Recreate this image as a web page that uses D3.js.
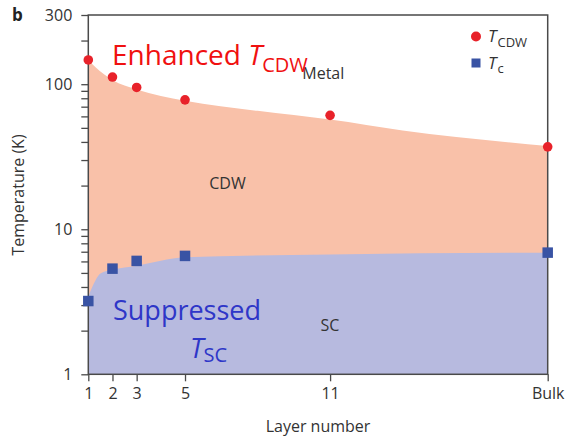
<!DOCTYPE html>
<html>
<head>
<meta charset="utf-8">
<script src="https://cdn.jsdelivr.net/npm/d3@7"></script>
<style>
  html, body { margin: 0; padding: 0; background: #fff; }
  svg { display: block; }
  text { font-family: "Open Sans", "Noto Sans", sans-serif; }
</style>
</head>
<body>
<svg id="chart" width="565" height="439"></svg>
<script>
// Layer numbers (20 stands for the bulk crystal)
const layerTicks = [1, 2, 3, 5, 11, 20];
const layerTickLabels = ["1", "2", "3", "5", "11", "Bulk"];

// Charge-density-wave transition temperature (K)
const cdwLayers = [1, 2, 3, 5, 11, 20];
const cdwTemps = [147, 112, 95, 78, 61, 37];

// Superconducting transition temperature (K)
const scLayers = [1, 2, 3, 5, 20];
const scTemps = [3.2, 5.35, 6.05, 6.55, 6.9];

// Phase boundaries used for the shaded regions
const cdwEdgeLayers = [1, 1.3, 2, 3, 5, 8, 11, 14, 20];
const cdwEdgeTemps = [147, 131, 107, 92, 77, 65.5, 57, 48, 37.5];
const scEdgeLayers = [1, 1.15, 1.3, 1.5, 2, 3, 5, 11, 20];
const scEdgeTemps = [3.45, 3.95, 4.45, 4.95, 5.25, 5.6, 6.4, 6.7, 6.9];

// Temperature axis ticks
const tempTicks = [1, 2, 3, 4, 5, 6, 7, 8, 9, 10, 20, 30, 40, 50, 60, 70, 80, 90, 100, 200, 300];
const tempTickLabels = { 1: "1", 10: "10", 100: "100", 300: "300" };

const plot = { left: 88.3, right: 547.7, top: 15, bottom: 374.3 };
const colors = {
  cdwFill: "#f9c1a9", scFill: "#b7badf",
  cdwPoint: "#e8222a", scPoint: "#3953a4",
  axis: "#4a4a4a", text: "#333"
};

const svg = d3.select("#chart");

const x = d3.scaleLinear().domain([1, 20]).range([plot.left, plot.right]);
const y = d3.scaleLog().domain([1, 300]).range([plot.bottom, plot.top]);

const zip = (xs, ys) => xs.map((v, i) => [v, ys[i]]);

// Shaded regions: CDW below its boundary, SC below its boundary
const area = d3.area()
  .x(d => x(d[0]))
  .y0(y(1))
  .y1(d => y(d[1]))
  .curve(d3.curveMonotoneX);

svg.append("path")
  .datum(zip(cdwEdgeLayers, cdwEdgeTemps))
  .attr("d", area)
  .attr("fill", colors.cdwFill);

svg.append("path")
  .datum(zip(scEdgeLayers, scEdgeTemps))
  .attr("d", area)
  .attr("fill", colors.scFill);

// Region labels
const regionLabels = [
  { text: "Metal", layer: 9.85, temp: 108 },
  { text: "CDW", layer: 6.0, temp: 19 },
  { text: "SC", layer: 10.6, temp: 2.0 }
];
svg.selectAll("text.region")
  .data(regionLabels)
  .join("text")
  .attr("class", "region")
  .attr("x", d => x(d.layer))
  .attr("y", d => y(d.temp))
  .attr("font-size", 16)
  .attr("fill", colors.text)
  .text(d => d.text);

// Axes
const xAxis = d3.axisBottom(x)
  .tickValues(layerTicks)
  .tickFormat((d, i) => layerTickLabels[i])
  .tickSize(7)
  .tickPadding(6);

const gx = svg.append("g")
  .attr("transform", `translate(0,${plot.bottom})`)
  .call(xAxis);

const yAxis = d3.axisLeft(y)
  .tickValues(tempTicks)
  .tickFormat(d => tempTickLabels[d] || "")
  .tickSize(7)
  .tickPadding(9);

const gy = svg.append("g")
  .attr("transform", `translate(${plot.left},0)`)
  .call(yAxis);

[gx, gy].forEach(g => {
  g.select(".domain").remove();
  g.selectAll(".tick line").attr("stroke", colors.axis).attr("stroke-width", 1.3);
  g.selectAll(".tick text")
    .attr("fill", colors.text)
    .attr("font-size", 16)
    .attr("font-family", "'Open Sans', sans-serif");
});

// Frame
svg.append("rect")
  .attr("x", plot.left)
  .attr("y", plot.top)
  .attr("width", plot.right - plot.left)
  .attr("height", plot.bottom - plot.top)
  .attr("fill", "none")
  .attr("stroke", colors.axis)
  .attr("stroke-width", 1.5);

// Data points
svg.selectAll("circle.cdw")
  .data(zip(cdwLayers, cdwTemps))
  .join("circle")
  .attr("class", "cdw")
  .attr("cx", d => x(d[0]))
  .attr("cy", d => y(d[1]))
  .attr("r", 4.8)
  .attr("fill", colors.cdwPoint);

const sq = 10.5;
svg.selectAll("rect.sc")
  .data(zip(scLayers, scTemps))
  .join("rect")
  .attr("class", "sc")
  .attr("x", d => x(d[0]) - sq / 2)
  .attr("y", d => y(d[1]) - sq / 2)
  .attr("width", sq)
  .attr("height", sq)
  .attr("fill", colors.scPoint);

// Axis titles
svg.append("text")
  .attr("x", (plot.left + plot.right) / 2)
  .attr("y", 432)
  .attr("text-anchor", "middle")
  .attr("font-size", 16)
  .attr("fill", colors.text)
  .text("Layer number");

svg.append("text")
  .attr("transform", "translate(24,195) rotate(-90)")
  .attr("text-anchor", "middle")
  .attr("font-size", 16)
  .attr("fill", colors.text)
  .text("Temperature (K)");

// Panel letter
svg.append("text")
  .attr("x", 12)
  .attr("y", 21)
  .attr("font-size", 17)
  .attr("font-weight", "bold")
  .attr("fill", "#222")
  .text("b");

// Legend
const legend = svg.append("g");
legend.append("circle").attr("cx", 476).attr("cy", 36.5).attr("r", 5).attr("fill", colors.cdwPoint);
legend.append("rect").attr("x", 471.5).attr("y", 58.5).attr("width", 9).attr("height", 9).attr("fill", colors.scPoint);

const lg1 = legend.append("text").attr("x", 488).attr("y", 42).attr("fill", colors.text).attr("font-size", 17);
lg1.append("tspan").attr("font-style", "italic").text("T");
lg1.append("tspan").attr("font-size", 13).attr("dy", 5).attr("dx", 1).text("CDW");

const lg2 = legend.append("text").attr("x", 488).attr("y", 69).attr("fill", colors.text).attr("font-size", 17);
lg2.append("tspan").attr("font-style", "italic").text("T");
lg2.append("tspan").attr("font-size", 13).attr("dy", 4).attr("dx", 1).text("c");

// Annotations
const handFont = "'Comic Sans MS', 'Open Sans', sans-serif";

const enh = svg.append("text")
  .attr("x", 112).attr("y", 65)
  .attr("font-family", handFont)
  .attr("font-size", 28)
  .attr("fill", "#f01010");
enh.append("tspan").text("Enhanced ");
enh.append("tspan").attr("font-style", "italic").text("T");
enh.append("tspan").attr("font-size", 20).attr("dy", 7).text("CDW");

svg.append("text")
  .attr("x", 113).attr("y", 320)
  .attr("font-family", handFont)
  .attr("font-size", 27)
  .attr("fill", "#2e36c8")
  .text("Suppressed");

const tsc = svg.append("text")
  .attr("x", 190).attr("y", 358)
  .attr("font-family", handFont)
  .attr("font-size", 27)
  .attr("fill", "#2e36c8");
tsc.append("tspan").attr("font-style", "italic").text("T");
tsc.append("tspan").attr("font-size", 20).attr("dy", 4).text("SC");
</script>
</body>
</html>
